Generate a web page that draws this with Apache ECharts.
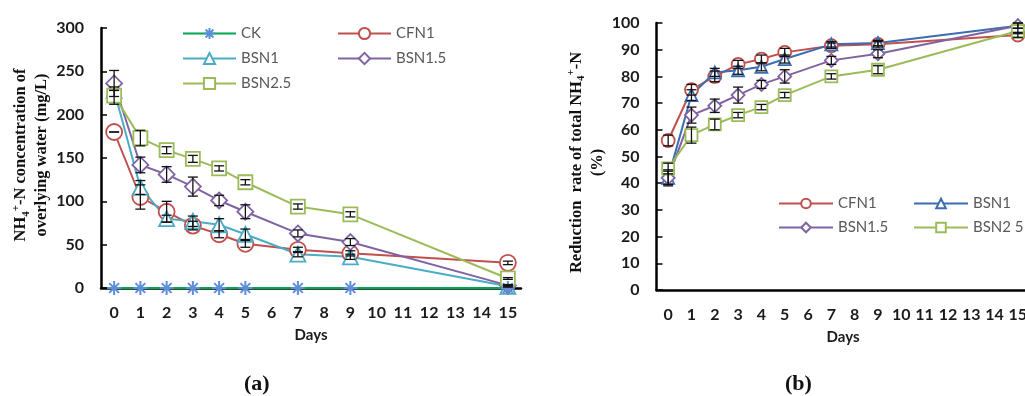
<!DOCTYPE html>
<html>
<head>
<meta charset="utf-8">
<script src="https://cdn.jsdelivr.net/npm/echarts@6/dist/echarts.min.js"></script>
<style>html,body{margin:0;padding:0;background:#fff;}#c{width:1025px;height:396px;}</style>
</head>
<body>
<div id="c"></div>
<script>
// ---------- data ----------
const dayLabels = ['0','1','2','3','4','5','6','7','8','9','10','11','12','13','14','15'];
const sampleDays = [0, 1, 2, 3, 4, 5, 7, 9, 15];

// (a) NH4+-N concentration of overlying water (mg/L)
const a_CK     = [0, 0, 0, 0, 0, 0, 0, 0, 0];
const a_CFN1   = [180, 105, 88, 72, 62, 51, 44, 40, 29];
const a_BSN1   = [228, 116, 80, 77, 73, 62, 39, 36, 2];
const a_BSN15  = [236, 142, 131, 117, 101, 88, 63, 53, 3];
const a_BSN25  = [222, 173, 159, 149, 138, 122, 94, 85, 11];
const a_err_CFN1  = [0, 14, 12, 5, 4, 4, 3, 3, 2];
const a_err_BSN1  = [0, 8, 4, 6, 7, 6, 3, 3, 1];
const a_err_BSN15 = [15, 9, 9, 11, 6, 8, 4, 4, 1];
const a_err_BSN25 = [10, 9, 4, 4, 3, 3, 3, 3, 1];

// (b) Reduction rate of total NH4+-N (%)
const b_CFN1   = [56, 75, 80, 84.5, 86.5, 89, 91.5, 92, 95.5];
const b_BSN1   = [42, 73, 81.5, 82.3, 83.6, 86.5, 92, 92.5, 99];
const b_BSN15  = [42, 65.5, 69, 73, 77, 80, 86, 88.5, 99];
const b_BSN25  = [45.5, 58, 62, 65.5, 68.5, 73, 80, 82.5, 97];
const b_err_CFN1  = [2, 2, 2, 1.5, 1.5, 1.5, 1, 1, 1];
const b_err_BSN1  = [3, 2, 1.5, 1.5, 1.5, 1.5, 1, 1, 1];
const b_err_BSN15 = [2.5, 3, 2.5, 3, 1.5, 2.5, 1.5, 1.5, 1];
const b_err_BSN25 = [2, 3, 2, 1, 1, 1, 1, 1.5, 1];

// ---------- helpers ----------
const pairs = arr => sampleDays.map((d, i) => [d, arr[i]]);
const errPairs = (arr, err) => sampleDays.map((d, i) => [d, arr[i] - err[i], arr[i] + err[i]]);

const C = {
  CK: '#00a651', CKmark: '#5b8fd6', CFN1: '#c0504d', BSN1a: '#4bacc6',
  BSN1b: '#3b6db0', BSN15: '#8064a2', BSN25: '#9bbb59'
};
const STAR = 'path://M0,5L10,5M5,0L5,10M1.5,1.5L8.5,8.5M8.5,1.5L1.5,8.5';

function lineSeries(name, data, color, symbol, size, gi, extra) {
  return Object.assign({
    type: 'line', name: name, data: data,
    xAxisIndex: gi, yAxisIndex: gi,
    symbol: symbol, symbolSize: size, showAllSymbol: true,
    lineStyle: { color: color, width: 2 },
    itemStyle: { color: '#fff', borderColor: color, borderWidth: 1.8 },
    emphasis: { disabled: true }, animation: false, z: 3
  }, extra || {});
}

function errSeries(data, gi) {
  return {
    type: 'custom', xAxisIndex: gi, yAxisIndex: gi, data: data, z: 5,
    silent: true, animation: false,
    renderItem: function (params, api) {
      const x = api.value(0);
      const lo = api.coord([x, api.value(1)]);
      const hi = api.coord([x, api.value(2)]);
      const w = 5;
      const st = { stroke: '#111', lineWidth: 1.3 };
      return { type: 'group', children: [
        { type: 'line', shape: { x1: lo[0], y1: lo[1], x2: hi[0], y2: hi[1] }, style: st },
        { type: 'line', shape: { x1: lo[0] - w, y1: lo[1], x2: lo[0] + w, y2: lo[1] }, style: st },
        { type: 'line', shape: { x1: hi[0] - w, y1: hi[1], x2: hi[0] + w, y2: hi[1] }, style: st }
      ]};
    }
  };
}

const tickFont = { fontFamily: 'Lato', fontWeight: 'bold', fontSize: 16, color: '#1a1a1a' };
const nameFont = { fontFamily: 'Liberation Serif', fontWeight: 'bold', fontSize: 16.5, color: '#111' };
const legendFont = { fontFamily: 'Lato', fontSize: 15, color: '#595959' };

function xAxis(gi) {
  return {
    type: 'category', gridIndex: gi, data: dayLabels, boundaryGap: true,
    axisLine: { lineStyle: { color: '#000', width: 2.5 } },
    axisTick: { inside: true, length: 5, lineStyle: { color: '#000', width: 1.5 } },
    axisLabel: Object.assign({ margin: 17, interval: 0 }, tickFont),
    name: 'Days', nameLocation: 'middle', nameGap: 40,
    nameTextStyle: Object.assign({}, tickFont, { fontSize: 15 }),
    splitLine: { show: false }
  };
}

const richName = {
  b: { fontFamily: 'Liberation Serif', fontWeight: 'bold', fontSize: 16.5, color: '#111', lineHeight: 21 },
  sub: { fontFamily: 'Liberation Serif', fontWeight: 'bold', fontSize: 11, color: '#111', verticalAlign: 'bottom', lineHeight: 21 },
  sup: { fontFamily: 'Liberation Serif', fontWeight: 'bold', fontSize: 11, color: '#111', verticalAlign: 'top', lineHeight: 21 }
};

const option = {
  backgroundColor: '#fff',
  animation: false,
  grid: [
    { left: 101, top: 28, width: 420, height: 260, outerBoundsMode: 'none', containLabel: false },
    { left: 656.5, top: 23, width: 373, height: 267, outerBoundsMode: 'none', containLabel: false }
  ],
  xAxis: [xAxis(0), xAxis(1)],
  yAxis: [
    {
      type: 'value', gridIndex: 0, min: 0, max: 300, interval: 50,
      axisLine: { show: true, lineStyle: { color: '#000', width: 2.5 } },
      axisTick: { show: true, inside: true, length: 6, lineStyle: { color: '#000', width: 1.5 } },
      axisLabel: Object.assign({ margin: 17 }, tickFont),
      splitLine: { show: false },
      name: '{b|NH}{sub|4}{sup|+}{b|-N concentration of}\n{b|overlying water (mg/L)}',
      nameLocation: 'middle', nameRotate: 90, nameGap: 45,
      nameTextStyle: Object.assign({ rich: richName, lineHeight: 21, padding: [0, 0, 0, 6] }, nameFont)
    },
    {
      type: 'value', gridIndex: 1, min: 0, max: 100, interval: 10,
      axisLine: { show: true, lineStyle: { color: '#000', width: 2.5 } },
      axisTick: { show: true, inside: true, length: 6, lineStyle: { color: '#000', width: 1.5 } },
      axisLabel: Object.assign({ margin: 17 }, tickFont),
      splitLine: { show: false },
      name: '{b|Reduction  rate of total NH}{sub|4}{sup|+}{b|-N}\n{b|(%)}',
      nameLocation: 'middle', nameRotate: 90, nameGap: 30,
      nameTextStyle: Object.assign({ rich: richName, lineHeight: 21, padding: [0, 12, 0, 0] }, nameFont)
    }
  ],
  legend: [
    { data: ['CK', 'BSN1', 'BSN2.5'], orient: 'vertical', left: 177, top: 21,
      itemWidth: 53, itemHeight: 14, itemGap: 10, textStyle: legendFont, selectedMode: false },
    { data: ['CFN1', 'BSN1.5'], orient: 'vertical', left: 332, top: 21,
      itemWidth: 53, itemHeight: 14, itemGap: 10, textStyle: legendFont, selectedMode: false },
    { data: ['CFN1 (b)', 'BSN1.5 (b)'], orient: 'vertical', left: 773, top: 191,
      itemWidth: 54, itemHeight: 12, itemGap: 9, textStyle: legendFont, selectedMode: false,
      formatter: n => n.replace(' (b)', '') },
    { data: ['BSN1 (b)', 'BSN2 5'], orient: 'vertical', left: 908, top: 191,
      itemWidth: 54, itemHeight: 12, itemGap: 9, textStyle: legendFont, selectedMode: false,
      formatter: n => n.replace(' (b)', '') }
  ],
  graphic: [
    { type: 'text', left: 244, top: 373, style: { text: '(a)', font: 'bold 22px "Liberation Serif"', fill: '#111' } },
    { type: 'text', left: 785, top: 373, style: { text: '(b)', font: 'bold 22px "Liberation Serif"', fill: '#111' } }
  ],
  series: [
    // ---- (a) ----
    lineSeries('CK', pairs(a_CK), C.CK, STAR, 14, 0, {
      itemStyle: { color: 'rgba(0,0,0,0)', borderColor: C.CKmark, borderWidth: 2 }, z: 4 }),
    lineSeries('CFN1', pairs(a_CFN1), C.CFN1, 'circle', 16, 0),
    lineSeries('BSN1', pairs(a_BSN1), C.BSN1a, 'triangle', 15, 0),
    lineSeries('BSN1.5', pairs(a_BSN15), C.BSN15, 'diamond', 16, 0),
    lineSeries('BSN2.5', pairs(a_BSN25), C.BSN25, 'rect', 14, 0),
    errSeries(errPairs(a_CFN1, a_err_CFN1), 0),
    errSeries(errPairs(a_BSN1, a_err_BSN1), 0),
    errSeries(errPairs(a_BSN15, a_err_BSN15), 0),
    errSeries(errPairs(a_BSN25, a_err_BSN25), 0),
    // ---- (b) ----
    lineSeries('CFN1 (b)', pairs(b_CFN1), C.CFN1, 'circle', 13, 1),
    lineSeries('BSN1 (b)', pairs(b_BSN1), C.BSN1b, 'triangle', 12, 1),
    lineSeries('BSN1.5 (b)', pairs(b_BSN15), C.BSN15, 'diamond', 13, 1),
    lineSeries('BSN2 5', pairs(b_BSN25), C.BSN25, 'rect', 12, 1),
    errSeries(errPairs(b_CFN1, b_err_CFN1), 1),
    errSeries(errPairs(b_BSN1, b_err_BSN1), 1),
    errSeries(errPairs(b_BSN15, b_err_BSN15), 1),
    errSeries(errPairs(b_BSN25, b_err_BSN25), 1)
  ]
};

const chart = echarts.init(document.getElementById('c'), null, { renderer: 'canvas' });
chart.setOption(option);
</script>
</body>
</html>
